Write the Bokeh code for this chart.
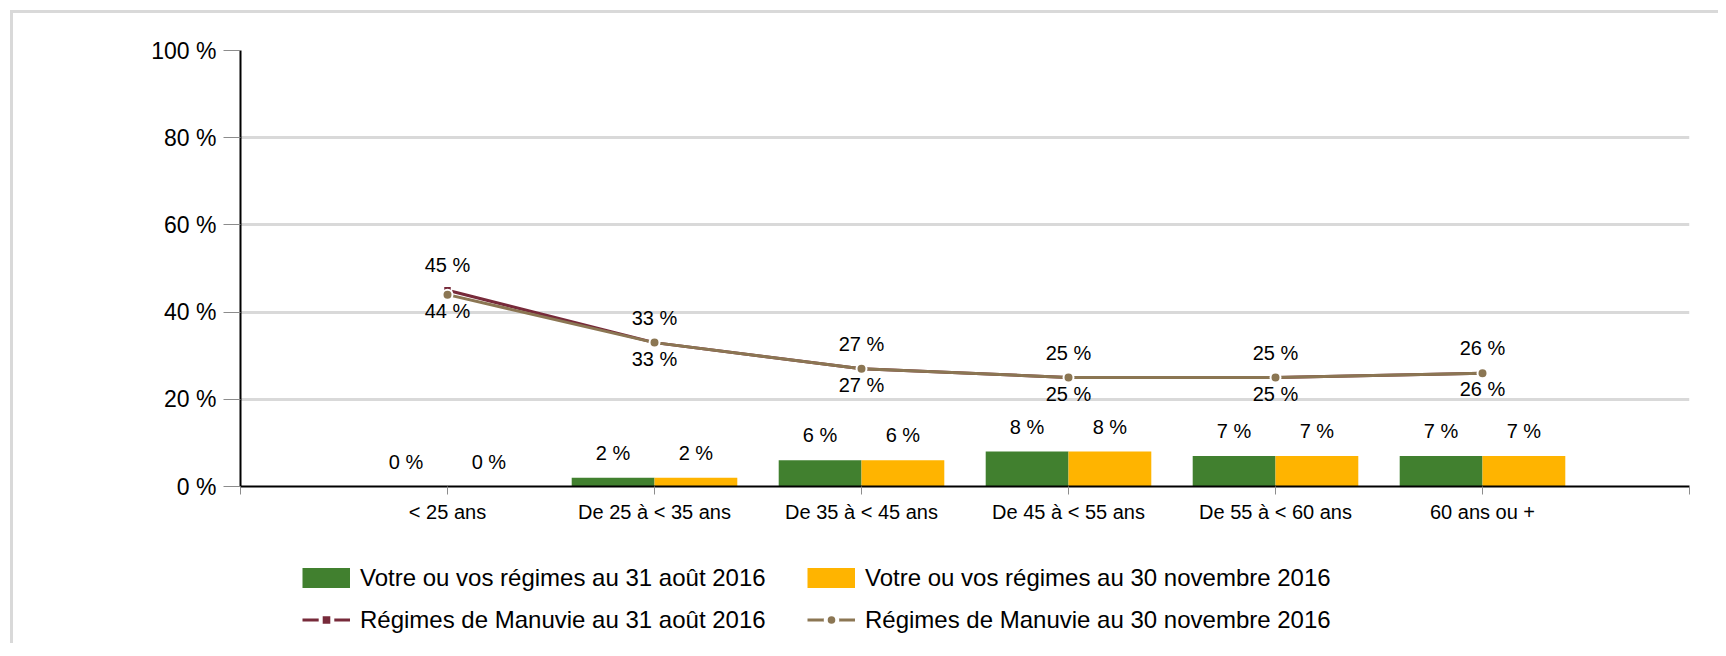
from bokeh.plotting import figure
from bokeh.layouts import column
from bokeh.models import Range1d, ColumnDataSource, Legend, LegendItem, FixedTicker
from bokeh.transform import dodge
from bokeh.core.properties import value
from bokeh.embed import file_html
from bokeh.resources import INLINE

# ---- data ----
categories = ["< 25 ans", "De 25 à < 35 ans", "De 35 à < 45 ans",
              "De 45 à < 55 ans", "De 55 à < 60 ans", "60 ans ou +"]
plan_aug = [0, 2, 6, 8, 7, 7]
plan_nov = [0, 2, 6, 8, 7, 7]
manulife_aug = [45, 33, 27, 25, 25, 26]
manulife_nov = [44, 33, 27, 25, 25, 26]
y_ticks = [0, 20, 40, 60, 80, 100]
y_tick_labels = ["0 %", "20 %", "40 %", "60 %", "80 %", "100 %"]
series_names = ["Votre ou vos régimes au 31 août 2016",
                "Votre ou vos régimes au 30 novembre 2016",
                "Régimes de Manuvie au 31 août 2016",
                "Régimes de Manuvie au 30 novembre 2016"]

FONT = "Liberation Sans"
GREEN = "#41802F"
YELLOW = "#FFB400"
RED = "#772A3A"
BROWN = "#8B7653"

xs = list(range(1, len(categories) + 1))
src = ColumnDataSource(dict(
    x=xs,
    plan_aug=plan_aug, plan_nov=plan_nov,
    manulife_aug=manulife_aug, manulife_nov=manulife_nov,
    plan_aug_lbl=[f"{v} %" for v in plan_aug],
    plan_nov_lbl=[f"{v} %" for v in plan_nov],
    manulife_aug_lbl=[f"{v} %" for v in manulife_aug],
    manulife_nov_lbl=[f"{v} %" for v in manulife_nov],
))

p = figure(width=1705, height=518,
           x_range=Range1d(0, len(categories) + 1), y_range=Range1d(0, 100),
           output_backend="svg", toolbar_location=None,
           min_border_left=227, min_border_right=29,
           min_border_top=37, min_border_bottom=45)
p.outline_line_color = None
p.background_fill_color = "white"
p.border_fill_color = "white"

# axes
p.xaxis.ticker = FixedTicker(ticks=list(range(0, len(categories) + 2)))
ov = {0: "", len(categories) + 1: ""}
for i, c in enumerate(categories):
    ov[i + 1] = c
p.xaxis.major_label_overrides = ov
p.xaxis.axis_line_width = 2
p.xaxis.axis_line_color = "black"
p.xaxis.major_tick_line_color = "#8c8c8c"
p.xaxis.major_tick_out = 8
p.xaxis.major_tick_in = 0
p.xaxis.minor_tick_line_color = None
p.xaxis.major_label_text_font = FONT
p.xaxis.major_label_text_font_size = "20px"
p.xaxis.major_label_text_color = "black"
p.xaxis.major_label_standoff = 6

p.yaxis.ticker = FixedTicker(ticks=y_ticks)
p.yaxis.major_label_overrides = {t: l for t, l in zip(y_ticks, y_tick_labels)}
p.yaxis.axis_line_width = 2
p.yaxis.axis_line_color = "black"
p.yaxis.major_tick_line_color = "#8c8c8c"
p.yaxis.major_tick_out = 17
p.yaxis.major_tick_in = 0
p.yaxis.minor_tick_line_color = None
p.yaxis.major_label_text_font = FONT
p.yaxis.major_label_text_font_size = "23px"
p.yaxis.major_label_text_color = "black"
p.yaxis.major_label_standoff = 7

p.xgrid.visible = False
p.ygrid.ticker = FixedTicker(ticks=y_ticks[1:])
p.ygrid.grid_line_color = "#d9d9d9"
p.ygrid.grid_line_width = 3

# bars
p.vbar(x=dodge("x", -0.2, range=p.x_range), top="plan_aug", width=0.4,
       source=src, fill_color=GREEN, line_color=None)
p.vbar(x=dodge("x", 0.2, range=p.x_range), top="plan_nov", width=0.4,
       source=src, fill_color=YELLOW, line_color=None)

# lines
p.line("x", "manulife_aug", source=src, line_color=RED, line_width=3)
p.scatter("x", "manulife_aug", source=src, marker="square", size=8,
          fill_color=RED, line_color="white", line_width=1.5)
p.line("x", "manulife_nov", source=src, line_color=BROWN, line_width=3)
p.scatter("x", "manulife_nov", source=src, marker="circle", size=10,
          fill_color=BROWN, line_color="white", line_width=2)

# labels
def lbl(xcol, ycol, tcol, off):
    p.text(x=xcol, y=ycol, text=tcol, source=src, y_offset=off,
           text_align="center", text_baseline="middle",
           text_font=value(FONT), text_font_size="20px", text_color="black")

lbl(dodge("x", -0.2, range=p.x_range), "plan_aug", "plan_aug_lbl", -25)
lbl(dodge("x", 0.2, range=p.x_range), "plan_nov", "plan_nov_lbl", -25)
lbl("x", "manulife_aug", "manulife_aug_lbl", -25)
lbl("x", "manulife_nov", "manulife_nov_lbl", 16)

# ---- legend strip (separate figure below the chart) ----
# its ranges exclude the data, so the proxy renderers only show in the legend
q = figure(width=1705, height=112, x_range=Range1d(-20, -10), y_range=Range1d(-20, -10),
           output_backend="svg", toolbar_location=None,
           x_axis_location=None, y_axis_location=None, min_border=0)
q.outline_line_color = None
q.grid.visible = False
q.background_fill_color = "white"
q.border_fill_color = "white"

lg_g = q.line("x", "plan_aug", source=src, line_color=GREEN, line_width=20, line_cap="butt")
lg_y = q.line("x", "plan_nov", source=src, line_color=YELLOW, line_width=20, line_cap="butt")
lg_l1 = q.line("x", "manulife_aug", source=src, line_color=RED, line_width=3)
lg_m1 = q.scatter("x", "manulife_aug", source=src, marker="square", size=8,
                  fill_color=RED, line_color="white", line_width=4)
lg_l2 = q.line("x", "manulife_nov", source=src, line_color=BROWN, line_width=3)
lg_m2 = q.scatter("x", "manulife_nov", source=src, marker="circle", size=10,
                  fill_color=BROWN, line_color="white", line_width=4)

legend = Legend(items=[
    LegendItem(label=series_names[0], renderers=[lg_g]),
    LegendItem(label=series_names[1], renderers=[lg_y]),
    LegendItem(label=series_names[2], renderers=[lg_l1, lg_m1]),
    LegendItem(label=series_names[3], renderers=[lg_l2, lg_m2]),
], location=(62, 9), orientation="horizontal", ncols=2,
    glyph_width=48, glyph_height=29, label_height=29, label_width=434,
    label_standoff=10, spacing=13, padding=0, margin=0,
    border_line_color=None, background_fill_alpha=0,
    label_text_font=FONT, label_text_font_size="24px", label_text_color="black")
q.add_layout(legend)

layout = column(p, q, spacing=0,
                styles={"margin-left": "10px", "margin-top": "10px",
                        "border-top": "3px solid #d9d9d9",
                        "border-left": "3px solid #d9d9d9"})

open("out.html", "w").write(file_html(layout, INLINE))
